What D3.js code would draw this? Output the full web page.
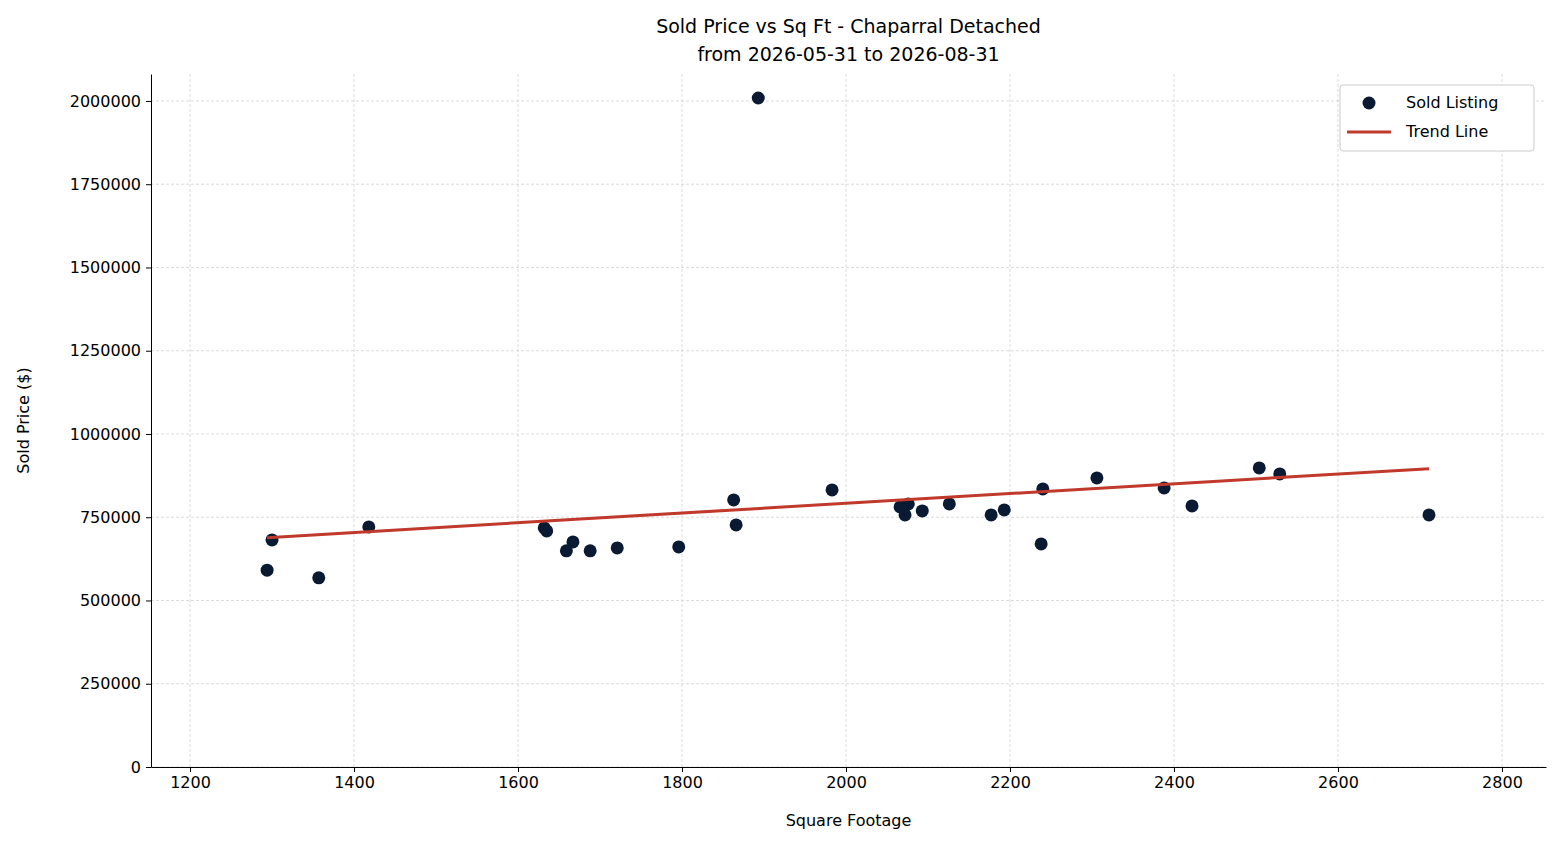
<!DOCTYPE html>
<html><head><meta charset="utf-8">
<script src="https://cdn.jsdelivr.net/npm/d3@7"></script>
<style>body{margin:0;background:#fff;font-family:"DejaVu Sans",sans-serif}</style>
</head><body><div id="chart"></div>
<script>
const sqft = [1294,1300,1357,1418,1632,1635,1659,1667,1688,1721,1796,1863,1866,1893,1983,2066,2072,2076,2093,2126,2177,2193,2238,2240,2306,2388,2422,2504,2529,2711];
const price = [591000,682000,568000,721000,718000,709000,649000,676000,649000,658000,661000,802000,727000,2009000,832000,781000,757000,790000,769000,790000,757000,772000,670000,835000,868000,838000,784000,898000,880000,757000];
const xTicks = [1200,1400,1600,1800,2000,2200,2400,2600,2800];
const yTicks = [0,250000,500000,750000,1000000,1250000,1500000,1750000,2000000];

const W = 1560, H = 845, m = {left:151, right:14, top:74, bottom:78};
const svg = d3.select("#chart").append("svg").attr("width", W).attr("height", H)
  .style("font-family", "DejaVu Sans");
const x = d3.scaleLinear().domain([1152.4, 2853.7]).range([m.left, W - m.right]);
const y = d3.scaleLinear().domain([0, 2081000]).range([H - m.bottom, m.top]);

// grid
svg.append("g").selectAll("line").data(xTicks).join("line")
  .attr("x1", d => x(d)).attr("x2", d => x(d)).attr("y1", m.top).attr("y2", H - m.bottom)
  .attr("stroke", "#ccc").attr("stroke-width", 0.7).attr("stroke-dasharray", "3,2");
svg.append("g").selectAll("line").data(yTicks).join("line")
  .attr("y1", d => y(d)).attr("y2", d => y(d)).attr("x1", m.left).attr("x2", W - m.right)
  .attr("stroke", "#ccc").attr("stroke-width", 0.7).attr("stroke-dasharray", "3,2");

// axes
const xa = svg.append("g").attr("transform", `translate(0,${H - m.bottom})`)
  .call(d3.axisBottom(x).tickValues(xTicks).tickFormat(d3.format("d")).tickSize(5).tickSizeOuter(0).tickPadding(5));
const ya = svg.append("g").attr("transform", `translate(${m.left},0)`)
  .call(d3.axisLeft(y).tickValues(yTicks).tickFormat(d3.format("d")).tickSize(5).tickSizeOuter(0).tickPadding(5));
[xa, ya].forEach(a => {
  a.attr("font-size", null).attr("font-family", null);
  a.selectAll("text").style("font-size", "16px").attr("fill", "#000");
  a.select(".domain").attr("stroke", "#000");
});

// trend line (least squares)
const mx = d3.mean(sqft), my = d3.mean(price);
const slope = d3.sum(sqft, (v, i) => (v - mx) * (price[i] - my)) / d3.sum(sqft, v => (v - mx) ** 2);
const icpt = my - slope * mx;
const [x0, x1] = d3.extent(sqft);

// points
svg.append("g").selectAll("circle").data(sqft).join("circle")
  .attr("cx", d => x(d)).attr("cy", (d, i) => y(price[i])).attr("r", 6.5).attr("fill", "#0b1a33");

svg.append("line").attr("x1", x(x0)).attr("x2", x(x1))
  .attr("y1", y(icpt + slope * x0)).attr("y2", y(icpt + slope * x1))
  .attr("stroke", "#c0392b").attr("stroke-width", 3);

// labels
const cx = (m.left + W - m.right) / 2;
svg.append("text").attr("x", cx).attr("y", 33).attr("text-anchor", "middle")
  .style("font-size", "19px").text("Sold Price vs Sq Ft - Chaparral Detached");
svg.append("text").attr("x", cx).attr("y", 61).attr("text-anchor", "middle")
  .style("font-size", "19px").text("from 2026-05-31 to 2026-08-31");
svg.append("text").attr("x", cx).attr("y", 826).attr("text-anchor", "middle")
  .style("font-size", "16px").text("Square Footage");
svg.append("text").attr("transform", `translate(29,${(m.top + H - m.bottom) / 2}) rotate(-90)`)
  .attr("text-anchor", "middle").style("font-size", "16px").text("Sold Price ($)");

// legend
const lg = svg.append("g").attr("transform", "translate(1340,85)");
lg.append("rect").attr("width", 194).attr("height", 66).attr("rx", 3)
  .attr("fill", "#fff").attr("stroke", "#ccc");
lg.append("circle").attr("cx", 29).attr("cy", 18).attr("r", 6.5).attr("fill", "#0b1a33");
lg.append("line").attr("x1", 7).attr("x2", 51).attr("y1", 47).attr("y2", 47).attr("stroke", "#c0392b").attr("stroke-width", 3);
lg.append("text").attr("x", 66).attr("y", 23).style("font-size", "16px").text("Sold Listing");
lg.append("text").attr("x", 66).attr("y", 52).style("font-size", "16px").text("Trend Line");
</script></body></html>
